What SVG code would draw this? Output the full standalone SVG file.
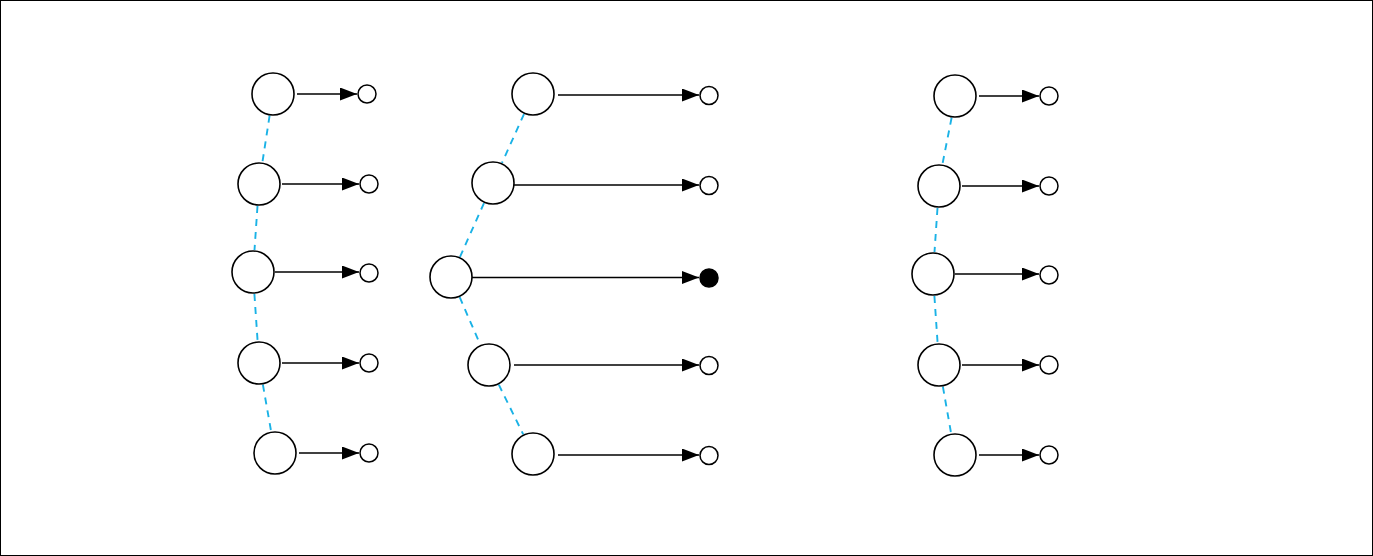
<svg xmlns="http://www.w3.org/2000/svg" width="1373" height="556" viewBox="0 0 1373 556">
<defs>
<marker id="arr" markerUnits="userSpaceOnUse" markerWidth="17" markerHeight="13" viewBox="0 0 17 13" refX="17" refY="6.5" orient="auto">
<path d="M0,0 L17,6.5 L0,13 z" fill="#000"/>
</marker>
<style>
.big{fill:#fff;stroke:#000;stroke-width:1.6}
.sm{fill:#fff;stroke:#000;stroke-width:1.5}
.smf{fill:#000;stroke:#000;stroke-width:1.5}
.arrow{stroke:#000;stroke-width:1.6;fill:none;marker-end:url(#arr)}
.dash{stroke:#1ab2e6;stroke-width:1.9;stroke-dasharray:7 6;fill:none}
</style>
</defs>
<rect x="0.5" y="0.5" width="1372" height="555" fill="#fff" stroke="#000" stroke-width="1"/>
<g id="connectors">
<line class="dash" x1="269.6" y1="115.7" x2="262.4" y2="162.3"/>
<line class="dash" x1="257.5" y1="206" x2="254.5" y2="250"/>
<line class="dash" x1="254.4" y1="294" x2="257.6" y2="341"/>
<line class="dash" x1="262.9" y1="384.7" x2="271.1" y2="431.3"/>
<line class="dash" x1="524" y1="114.1" x2="502" y2="162.9"/>
<line class="dash" x1="484" y1="203.1" x2="460" y2="256.9"/>
<line class="dash" x1="459.7" y1="297.2" x2="480.3" y2="344.8"/>
<line class="dash" x1="498.8" y1="384.7" x2="523.2" y2="434.3"/>
<line class="dash" x1="951.6" y1="117.7" x2="942.4" y2="164.3"/>
<line class="dash" x1="937.5" y1="208" x2="934.5" y2="252"/>
<line class="dash" x1="934.4" y1="296" x2="937.6" y2="343"/>
<line class="dash" x1="942.9" y1="386.7" x2="951.1" y2="433.3"/>
<line class="arrow" x1="297" y1="94" x2="357" y2="94"/>
<line class="arrow" x1="282" y1="184" x2="359" y2="184"/>
<line class="arrow" x1="275" y1="272" x2="359" y2="272"/>
<line class="arrow" x1="282" y1="363" x2="359" y2="363"/>
<line class="arrow" x1="299" y1="453" x2="359" y2="453"/>
<line class="arrow" x1="558" y1="95" x2="699" y2="95"/>
<line class="arrow" x1="514" y1="185" x2="699" y2="185"/>
<line class="arrow" x1="472" y1="277.5" x2="699" y2="277.5"/>
<line class="arrow" x1="514" y1="365" x2="699" y2="365"/>
<line class="arrow" x1="558" y1="455" x2="699" y2="455"/>
<line class="arrow" x1="979" y1="96" x2="1039" y2="96"/>
<line class="arrow" x1="962" y1="186" x2="1039" y2="186"/>
<line class="arrow" x1="955" y1="274" x2="1039" y2="274"/>
<line class="arrow" x1="962" y1="365" x2="1039" y2="365"/>
<line class="arrow" x1="979" y1="455" x2="1039" y2="455"/>
</g>
<g id="a1"><circle class="big" cx="273" cy="94" r="21"/></g>
<g id="a2"><circle class="big" cx="259" cy="184" r="21"/></g>
<g id="a3"><circle class="big" cx="253" cy="272" r="21"/></g>
<g id="a4"><circle class="big" cx="259" cy="363" r="21"/></g>
<g id="a5"><circle class="big" cx="275" cy="453" r="21"/></g>
<g id="as1"><circle class="sm" cx="367" cy="94" r="9"/></g>
<g id="as2"><circle class="sm" cx="369" cy="184" r="9"/></g>
<g id="as3"><circle class="sm" cx="369" cy="273" r="9"/></g>
<g id="as4"><circle class="sm" cx="369" cy="363" r="9"/></g>
<g id="as5"><circle class="sm" cx="369" cy="453" r="9"/></g>
<g id="b1"><circle class="big" cx="533" cy="94" r="21"/></g>
<g id="b2"><circle class="big" cx="493" cy="183" r="21"/></g>
<g id="b3"><circle class="big" cx="451" cy="277" r="21"/></g>
<g id="b4"><circle class="big" cx="489" cy="365" r="21"/></g>
<g id="b5"><circle class="big" cx="533" cy="454" r="21"/></g>
<g id="bs1"><circle class="sm" cx="709" cy="95.5" r="9"/></g>
<g id="bs2"><circle class="sm" cx="709" cy="185.5" r="9"/></g>
<g id="bs3"><circle class="smf" cx="709" cy="278" r="9"/></g>
<g id="bs4"><circle class="sm" cx="709" cy="365.5" r="9"/></g>
<g id="bs5"><circle class="sm" cx="709" cy="455.5" r="9"/></g>
<g id="c1"><circle class="big" cx="955" cy="96" r="21"/></g>
<g id="c2"><circle class="big" cx="939" cy="186" r="21"/></g>
<g id="c3"><circle class="big" cx="933" cy="274" r="21"/></g>
<g id="c4"><circle class="big" cx="939" cy="365" r="21"/></g>
<g id="c5"><circle class="big" cx="955" cy="455" r="21"/></g>
<g id="cs1"><circle class="sm" cx="1049" cy="96" r="9"/></g>
<g id="cs2"><circle class="sm" cx="1049" cy="186" r="9"/></g>
<g id="cs3"><circle class="sm" cx="1049" cy="275" r="9"/></g>
<g id="cs4"><circle class="sm" cx="1049" cy="365" r="9"/></g>
<g id="cs5"><circle class="sm" cx="1049" cy="455" r="9"/></g>
</svg>
